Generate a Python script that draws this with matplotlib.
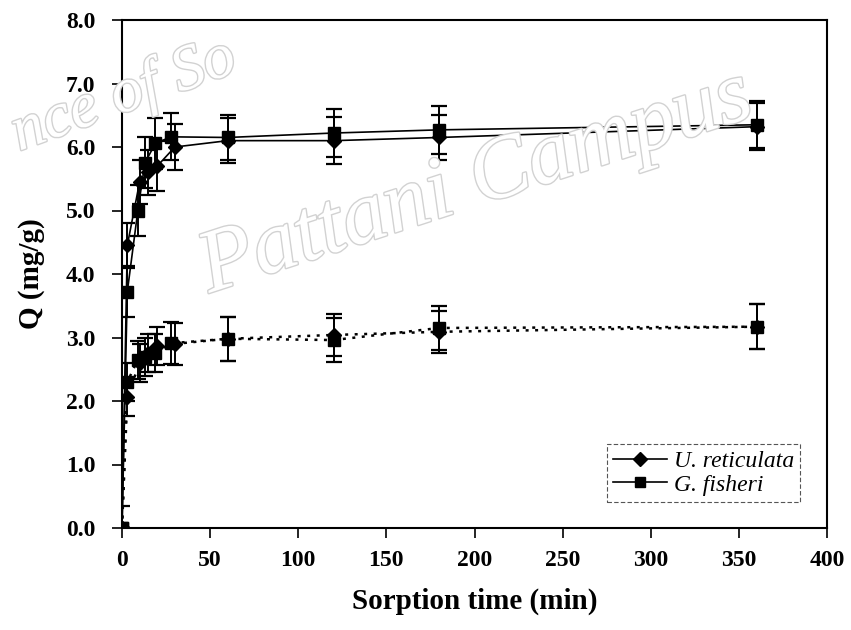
import matplotlib
matplotlib.use("Agg")
import matplotlib.pyplot as plt
import matplotlib.patheffects as pe
from matplotlib.lines import Line2D

# ---- data ----
t_ur = [0, 3, 10, 15, 20, 30, 60, 120, 180, 360]
t_gf = [0, 3, 9, 13, 19, 28, 60, 120, 180, 360]

q_ur_high = [0.0, 4.45, 5.45, 5.60, 5.70, 6.00, 6.10, 6.10, 6.15, 6.32]
e_ur_high = [0.35, 0.35, 0.35, 0.35, 0.40, 0.36, 0.35, 0.37, 0.35, 0.37]
q_gf_high = [0.0, 3.72, 5.00, 5.75, 6.06, 6.16, 6.15, 6.22, 6.27, 6.35]
e_gf_high = [0.0, 0.40, 0.40, 0.40, 0.40, 0.37, 0.35, 0.38, 0.38, 0.37]

q_ur_low = [0.0, 2.06, 2.60, 2.75, 2.86, 2.90, 2.98, 3.04, 3.09, 3.17]
e_ur_low = [0.0, 0.30, 0.30, 0.30, 0.30, 0.33, 0.35, 0.33, 0.33, 0.35]
q_gf_low = [0.0, 2.30, 2.65, 2.70, 2.76, 2.91, 2.98, 2.96, 3.15, 3.17]
e_gf_low = [0.0, 0.30, 0.30, 0.30, 0.30, 0.33, 0.35, 0.35, 0.35, 0.35]

x_ticks = [0, 50, 100, 150, 200, 250, 300, 350, 400]
y_ticks = [0.0, 1.0, 2.0, 3.0, 4.0, 5.0, 6.0, 7.0, 8.0]
labels = ["U. reticulata", "G. fisheri"]

plt.rcParams['font.family'] = ['Liberation Serif', 'DejaVu Serif']

fig = plt.figure(figsize=(8.51, 6.30), dpi=100)
ax = fig.add_axes([122/851, 1-528/630, 705/851, 508/630])

# watermark
wm = dict(color='white', style='italic',
          path_effects=[pe.Stroke(linewidth=2.0, foreground='#d2d2d2'), pe.Normal()],
          zorder=0)
fig.text(4/851, 1-150/630, "nce of So", ha='left', va='baseline', fontsize=46,
         rotation=20, **wm)
fig.text(190/851, 1-292/630, "Pattani Campus", ha='left', va='baseline', fontsize=64,
         rotation=18, **wm)

ebkw = dict(ecolor='black', elinewidth=1.4, capsize=6, capthick=1.6, color='black')
ax.errorbar(t_ur, q_ur_high, yerr=e_ur_high, fmt='-D', ms=7, lw=1.2, **ebkw)
ax.errorbar(t_gf, q_gf_high, yerr=e_gf_high, fmt='-s', ms=8, lw=1.2, **ebkw)
ax.errorbar(t_ur, q_ur_low, yerr=e_ur_low, fmt='D', ms=7, **ebkw)
ax.plot(t_ur, q_ur_low, linestyle=(0, (1.2, 2.6)), color='black', lw=1.8)
ax.errorbar(t_gf, q_gf_low, yerr=e_gf_low, fmt='s', ms=8, **ebkw)
ax.plot(t_gf, q_gf_low, linestyle=(0, (1.2, 2.6)), color='black', lw=1.8)

ax.set_xlim(0, 400)
ax.set_ylim(0, 8)
ax.set_xticks(x_ticks)
ax.set_yticks(y_ticks)
ax.set_xticklabels([str(v) for v in x_ticks])
ax.set_yticklabels([f"{v:.1f}" for v in y_ticks])
ax.tick_params(direction='out', length=7, width=1.2, labelsize=17)
ax.tick_params(axis='y', pad=12)
ax.tick_params(axis='x', pad=9)
for lab in ax.get_xticklabels() + ax.get_yticklabels():
    lab.set_fontweight('bold')
for s in ax.spines.values():
    s.set_linewidth(1.5)
ax.patch.set_alpha(0)

ax.set_xlabel("Sorption time (min)", fontsize=21, fontweight='bold', labelpad=12)
ax.set_ylabel("Q (mg/g)", fontsize=21, fontweight='bold', labelpad=15)

handles = [Line2D([], [], color='black', marker='D', ms=7, lw=1.2),
           Line2D([], [], color='black', marker='s', ms=7, lw=1.2)]
leg = ax.legend(handles, labels, loc='lower right', bbox_to_anchor=(0.962, 0.052),
                prop={'style': 'italic', 'size': 17}, fancybox=False,
                handlelength=2.3, handletextpad=0.3, borderpad=0.25,
                labelspacing=0.1, borderaxespad=0, framealpha=1)
leg.get_frame().set_edgecolor('#555555')
leg.get_frame().set_linestyle((0, (4, 2)))
leg.get_frame().set_linewidth(0.8)

fig.savefig("out.png", dpi=100)
